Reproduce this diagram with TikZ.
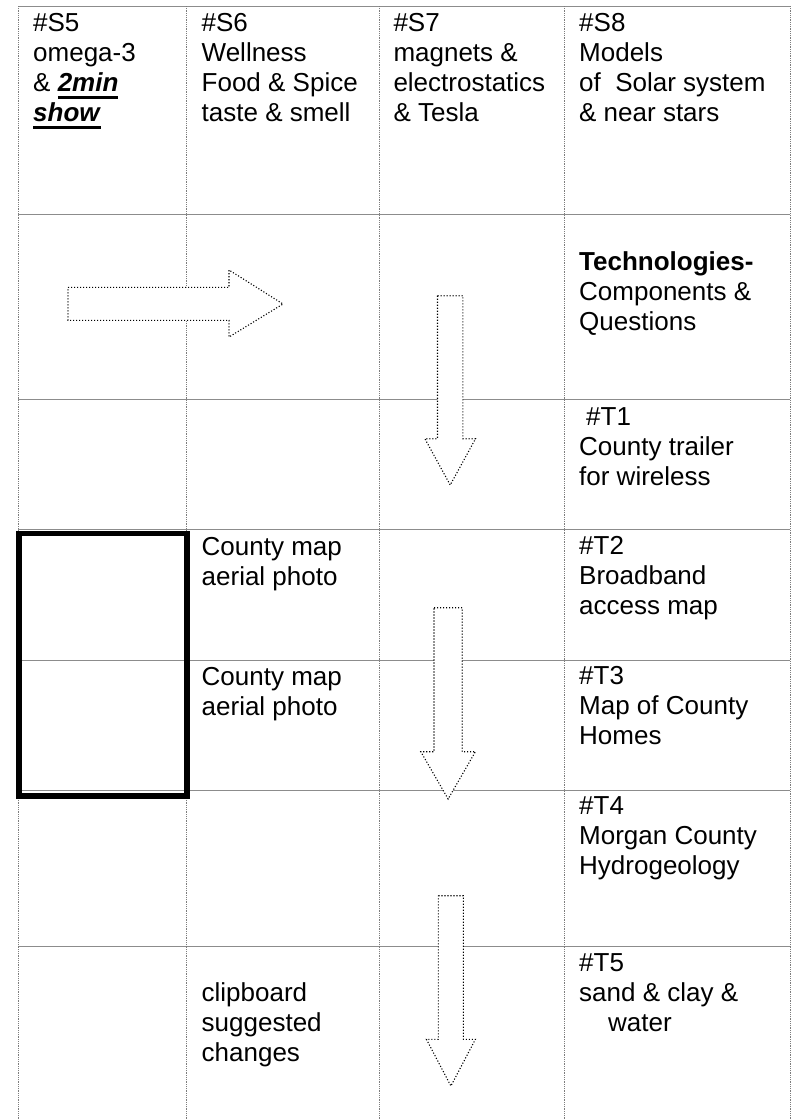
\documentclass[tikz,border=0pt]{standalone}
\usepackage{fontspec}
\setmainfont{Liberation Sans}
\definecolor{gridgray}{RGB}{140,140,140}
\definecolor{vgray}{RGB}{125,125,125}
\newcommand\myul[1]{\leavevmode\setbox0=\hbox{#1}\rlap{\rule[-7pt]{\wd0}{2.8pt}}\box0}
\newcommand\cellpar[1]{\parbox[t]{205pt}{\raggedright #1}}
\newcommand\myDownArrow[6]{% cx, top, base, tip, body half, head half
  \draw[blockarrow] (#1-#5,#2) -- (#1+#5,#2) -- (#1+#5,#3) -- (#1+#6,#3) -- (#1,#4)
    -- (#1-#6,#3) -- (#1-#5,#3) -- cycle;}
\tikzset{
  hline/.style={draw=gridgray, line width=1pt},
  vline/.style={draw=vgray, line width=1pt, dash pattern=on 1pt off 0.8pt},
  blockarrow/.style={draw=black, fill=white, line width=1.1pt, dash pattern=on 1.1pt off 1.9pt, line join=miter},
  thickbox/.style={draw=black, line width=5.5pt},
  celltext/.style={anchor=base west, inner sep=0pt, font=\fontsize{26}{30}\selectfont},
}
\begin{document}
\begin{tikzpicture}[x=1pt,y=-1pt]
\useasboundingbox (0,0) rectangle (793,1120);
% horizontal rules
\foreach \yy in {6,214,399.3,529.3,660.7,790,946}
  \draw[hline] (18.3,\yy) -- (790,\yy);
% vertical rules
\foreach \xx in {18.3,186.7,379.3,564.3,790}
  \draw[vline] (\xx,6) -- (\xx,1120);
% block arrows
\draw[blockarrow] (68,287.3) -- (229,287.3) -- (229,270) -- (283,304) -- (229,337) -- (229,320.3) -- (68,320.3) -- cycle;
\myDownArrow{450.2}{295.7}{438.7}{485}{12.7}{25.3}
\myDownArrow{448.1}{607.7}{751.7}{799}{14.1}{27.3}
\myDownArrow{450.9}{895.7}{1039.3}{1086}{12.5}{24.5}
% thick box
\draw[thickbox] (19,533.4) rectangle (187,795.8);
% header row
\node[celltext] (s5) at (33,31.7) {\cellpar{\#S5\\omega-3\\\& \myul{\textbf{\textit{2min}}}\\\myul{\textbf{\textit{show}}}}};
\node[celltext] (s6) at (201.5,31.7) {\cellpar{\#S6\\Wellness\\Food \& Spice\\taste \& smell}};
\node[celltext] (s7) at (393.3,31.7) {\cellpar{\#S7\\magnets \&\\electrostatics\\\& Tesla}};
\node[celltext] (s8) at (579,31.7) {\cellpar{\#S8\\Models\\of\ \ Solar system\\\& near stars}};
% column 4
\node[celltext] (tech) at (579,270.5) {\cellpar{\textbf{Technologies-}\\Components \&\\Questions}};
\node[celltext] (t1) at (579,425) {\cellpar{\hspace*{7pt}\#T1\\County trailer\\for wireless}};
\node[celltext] (t2) at (579,554.5) {\cellpar{\#T2\\Broadband\\access map}};
\node[celltext] (t3) at (579,684) {\cellpar{\#T3\\Map of County\\Homes}};
\node[celltext] (t4) at (579,814) {\cellpar{\#T4\\Morgan County\\Hydrogeology}};
\node[celltext] (t5) at (579,971.7) {\cellpar{\#T5\\sand \& clay \&\\\hspace*{29pt}water}};
% column 2
\node[celltext] (map1) at (201.5,555) {\cellpar{County map\\aerial photo}};
\node[celltext] (map2) at (201.5,685) {\cellpar{County map\\aerial photo}};
\node[celltext] (clip) at (201.5,1001.7) {\cellpar{clipboard\\suggested\\changes}};
\end{tikzpicture}
\end{document}
